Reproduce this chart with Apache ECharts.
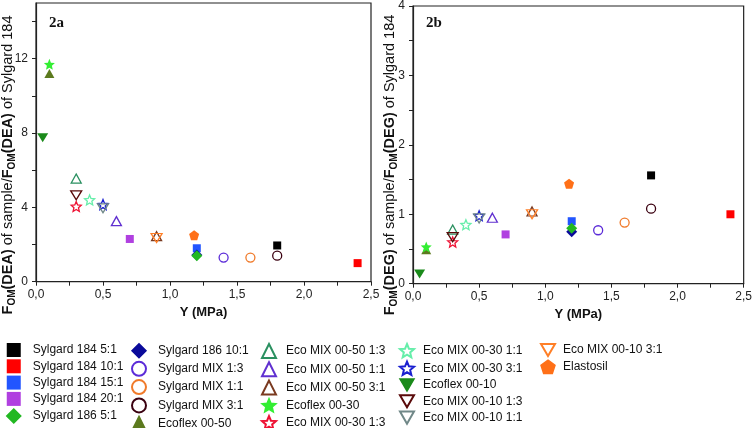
<!DOCTYPE html>
<html><head><meta charset="utf-8">
<script src="https://cdn.jsdelivr.net/npm/echarts@6/dist/echarts.min.js"></script>
<style>html,body{margin:0;padding:0;background:#fff}#c{width:755px;height:428px}</style>
</head><body><div id="c"></div>
<script>
// ---------------- DATA ----------------
const materials = [
  'Sylgard 184 5:1','Sylgard 184 10:1','Sylgard 184 15:1','Sylgard 184 20:1','Sylgard 186 5:1',
  'Sylgard 186 10:1','Sylgard MIX 1:3','Sylgard MIX 1:1','Sylgard MIX 3:1','Ecoflex 00-50',
  'Eco MIX 00-50 1:3','Eco MIX 00-50 1:1','Eco MIX 00-50 3:1','Ecoflex 00-30','Eco MIX 00-30 1:3',
  'Eco MIX 00-30 1:1','Eco MIX 00-30 3:1','Ecoflex 00-10','Eco MIX 00-10 1:3','Eco MIX 00-10 1:1',
  'Eco MIX 00-10 3:1','Elastosil'
];
// Young's modulus Y (MPa)
const modulusMPa = [1.8, 2.4, 1.2, 0.7, 1.2, 1.2, 1.4, 1.6, 1.8, 0.1, 0.3, 0.6, 0.9, 0.1, 0.3, 0.4, 0.5, 0.05, 0.3, 0.5, 0.9, 1.18];
// FOM(DEA) relative to Sylgard 184 (chart 2a)
const fomDEA = [1.95, 1.0, 1.8, 2.3, 1.4, 1.44, 1.3, 1.3, 1.4, 11.2, 5.55, 3.26, 2.45, 11.7, 4.05, 4.4, 4.15, 7.75, 4.65, 3.95, 2.35, 2.5];
// FOM(DEG) relative to Sylgard 184 (chart 2b)
const fomDEG = [1.56, 1.0, 0.9, 0.71, 0.8, 0.75, 0.77, 0.88, 1.08, 0.49, 0.78, 0.95, 1.04, 0.53, 0.6, 0.85, 0.98, 0.14, 0.67, 0.94, 1.0, 1.44];
const xTickLabels = ['0,0','0,5','1,0','1,5','2,0','2,5'];
const yLabelsDEA = [0, 4, 8, 12];
const yLabelsDEG = [0, 1, 2, 3, 4];

// ---------------- STYLE ----------------
const STAR = 'path://M0,-10L2.64,-3.64L9.51,-3.09L4.28,1.39L5.88,8.09L0,4.5L-5.88,8.09L-4.28,1.39L-9.51,-3.09L-2.64,-3.64Z';
const PENT = 'path://M0,-10L9.51,-3.09L5.88,8.09L-5.88,8.09L-9.51,-3.09Z';
const INV = 'path://M-10,0L10,0L0,17.3Z';
const markerSymbol = ['rect','rect','rect','rect','diamond','diamond','circle','circle','circle','triangle',
  'triangle','triangle','triangle',STAR,STAR,STAR,STAR,INV,INV,INV,INV,PENT];
const markerSize = [8,8,8,8,11,11,9,9,9,[10,9],[10,9],[10,9],[10,9],11,10,10,10,[11,9],[11,9],[11,9],[11,9],10];
const colors = ['#000000','#ff0000','#2255ff','#b040e0','#22b822','#0a0a9a','#5b2bd8','#f07a2a','#3a0010','#5c7a1e',
  '#2a9060','#6030d0','#7a3a20','#33ee33','#ee1133','#66eeaa','#1a20d0','#1a8a1a','#5a0a0a','#708888','#ff7f27','#ff7018'];
const hollow = [0,0,0,0,0,0,1,1,1,0,1,1,1,0,1,1,1,0,1,1,1,0];
const drawOrder = [0,1,2,3,5,4,6,7,8,9,10,11,12,13,14,15,16,17,18,19,20,21];

const FONT = 'Liberation Sans, Arial, sans-serif';
const AX = '#222';

function makeSeries(g, vals) {
  return drawOrder.map(i => ({
    type: 'scatter', name: materials[i], xAxisIndex: g, yAxisIndex: g,
    data: [[modulusMPa[i], vals[i]]],
    symbol: markerSymbol[i], symbolSize: markerSize[i],
    itemStyle: hollow[i]
      ? {color: 'rgba(0,0,0,0)', borderColor: colors[i], borderWidth: 1.3, opacity: 1}
      : {color: colors[i], opacity: 1},
    emphasis: {disabled: true},
    animation: false
  }));
}

function xAxisFor(g) {
  const ticks = [];
  for (let k = 0; k <= 10; k++) ticks.push(k * 0.25);
  return {
    gridIndex: g, type: 'value', min: 0, max: 2.5, interval: 0.5,
    axisLine: {show: true, onZero: false, lineStyle: {color: AX, width: 1.2}},
    axisTick: {show: true, length: 4, customValues: ticks, lineStyle: {color: AX}},
    axisLabel: {fontSize: 12, color: AX, margin: 7, fontFamily: FONT,
      formatter: v => xTickLabels[Math.round(v / 0.5)]},
    splitLine: {show: false},
    name: 'Y (MPa)', nameLocation: 'middle', nameGap: 23,
    nameTextStyle: {fontWeight: 'bold', fontSize: 13, color: '#111', fontFamily: FONT}
  };
}

function yAxisFor(g, max, labels, step) {
  const ticks = [];
  for (let v = 0; v <= max + 1e-9; v += step) ticks.push(+v.toFixed(3));
  return {
    gridIndex: g, type: 'value', min: 0, max: max,
    axisLine: {show: true, onZero: false, lineStyle: {color: AX, width: 1.2}},
    axisTick: {show: true, length: 4, customValues: ticks, lineStyle: {color: AX}},
    axisLabel: {fontSize: 12, color: AX, margin: 8, fontFamily: FONT, customValues: labels},
    splitLine: {show: false}
  };
}

const legendCols = [[0,1,2,3,4],[5,6,7,8,9],[10,11,12,13,14],[15,16,17,18,19],[20,21]];
const legendLeft = [6, 131, 261, 399, 540];
const legendTextPad = [7, 7, 5, 4, 3];

function legendItem(i) {
  if (hollow[i]) return {name: materials[i]};
  if (markerSymbol[i] === 'rect') return {name: materials[i], itemStyle: {borderWidth: 0}};
  return {name: materials[i], itemStyle: {borderColor: colors[i], borderWidth: 1.5}};
}

const legends = legendCols.map((col, k) => ({
  orient: 'vertical', left: legendLeft[k], top: 343, padding: 0, height: 90,
  itemWidth: 14, itemHeight: 14, itemGap: 2.3,
  selectedMode: false,
  textStyle: {fontSize: 12, color: '#111', fontFamily: FONT, padding: [0, 0, 0, legendTextPad[k]]},
  data: col.map(legendItem)
}));

function yTitle(x, key) {
  return {
    type: 'text', x: x, y: 165, rotation: Math.PI / 2,
    style: {
      text: '{b|F}{s|OM}{b|(' + key + ')} of sample/{b|F}{s|OM}{b|(' + key + ')} of Sylgard 184',
      fontSize: 14.5, fontFamily: FONT, fill: '#111',
      align: 'center', verticalAlign: 'middle',
      rich: {
        b: {fontSize: 14.5, fontWeight: 'bold', fontFamily: FONT, fill: '#111'},
        s: {fontSize: 10, fontWeight: 'bold', fontFamily: FONT, fill: '#111', padding: [8, 0, 0, 0]}
      }
    }
  };
}

const option = {
  animation: false,
  backgroundColor: '#fff',
  textStyle: {fontFamily: FONT},
  grid: [
    {left: 36, top: 3, width: 335, height: 278.7, show: true, borderColor: AX, borderWidth: 1.2, containLabel: false},
    {left: 413, top: 5.3, width: 337.5, height: 278.4, show: true, borderColor: AX, borderWidth: 1.2, containLabel: false}
  ],
  xAxis: [xAxisFor(0), xAxisFor(1)],
  yAxis: [yAxisFor(0, 15, yLabelsDEA, 2), yAxisFor(1, 4, yLabelsDEG, 0.5)],
  legend: legends,
  series: makeSeries(0, fomDEA).concat(makeSeries(1, fomDEG)),
  graphic: [
    yTitle(8, 'DEA'),
    yTitle(390, 'DEG'),
    {type: 'text', x: 49, y: 23, style: {text: '2a', font: 'bold 15px "Liberation Serif", "Times New Roman", serif', fill: '#111', verticalAlign: 'middle'}},
    {type: 'text', x: 426, y: 23, style: {text: '2b', font: 'bold 15px "Liberation Serif", "Times New Roman", serif', fill: '#111', verticalAlign: 'middle'}}
  ]
};

const chart = echarts.init(document.getElementById('c'), null, {renderer: 'canvas'});
chart.setOption(option);
</script>
</body></html>
